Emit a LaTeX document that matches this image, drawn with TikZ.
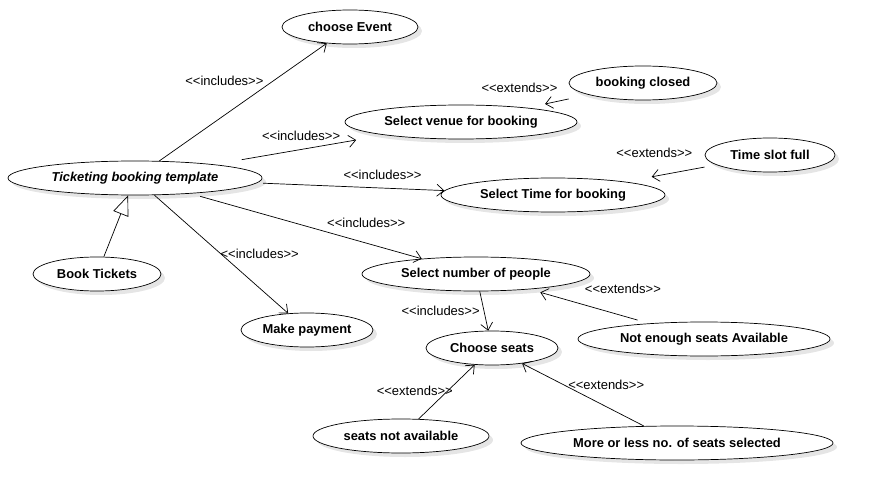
\documentclass[tikz,border=0pt]{standalone}
\usepackage{fontspec}
\setmainfont{Liberation Sans}
\usetikzlibrary{arrows.meta}
\usetikzlibrary{shapes.geometric}
\usetikzlibrary{shadows}

\begin{document}
\begin{tikzpicture}[x=1pt,y=-1pt]
      \useasboundingbox (0,0) rectangle (875,500);

      \begin{scope}[every node/.style={ellipse,draw,line width=0.7pt,fill=white,inner sep=0pt,
          minimum height=34pt,
          drop shadow={shadow xshift=4pt,shadow yshift=-4pt,fill=black!10,opacity=1},
          font=\fontsize{12.9}{14}\selectfont\bfseries}]
        \node[minimum width=254pt,font=\fontsize{12.9}{14}\selectfont\bfseries\itshape] (tmpl) at (135, 178) {Ticketing booking template};
        \node[minimum width=128pt] (book) at (97, 274) {Book Tickets};
        \node[minimum width=136pt] (event) at (350, 27) {choose Event};
        \node[minimum width=232pt] (venue) at (461, 122) {Select venue for booking};
        \node[minimum width=148pt] (closed) at (643, 83) {booking closed};
        \node[minimum width=224pt] (time) at (553, 195) {Select Time for booking};
        \node[minimum width=130pt] (slot) at (770, 155) {Time slot full};
        \node[minimum width=228pt] (people) at (476, 274) {Select number of people};
        \node[minimum width=252pt] (noseats) at (704, 339) {Not enough seats Available};
        \node[minimum width=132pt] (pay) at (307, 330) {Make payment};
        \node[minimum width=132pt] (seats) at (492, 348) {Choose seats};
        \node[minimum width=176pt] (notavail) at (401, 436) {seats not available};
        \node[minimum width=312pt] (moreless) at (677, 443) {More or less no. of seats selected};
      \end{scope}

      \begin{scope}[>={Straight Barb[length=7pt,width=12pt]},
          every node/.style={font=\fontsize{13}{14}\selectfont,inner sep=1pt},
          every edge/.style={draw=black,line width=0.7pt}]
        \path [->] (tmpl) edge node[pos=0.63, anchor=south east] {<{}<includes>{}>} (event);
        \path [->] (tmpl) edge[shorten <=28pt, shorten >=29pt] node[pos=0.51, above=7pt] {<{}<includes>{}>} (venue);
        \path [->] (tmpl) edge[shorten <=6pt] node[pos=0.67, above=7pt] {<{}<includes>{}>} (time);
        \path [->] (tmpl) edge[shorten <=10pt] node[pos=0.76, above=14pt] {<{}<includes>{}>} (people);
        \path [->] (tmpl) edge node[pos=0.5, anchor=west, xshift=-2pt] {<{}<includes>{}>} (pay);
        \path [-{Triangle[open,length=20pt,width=16pt]}] (book) edge (tmpl);
        \path [->] (closed) edge[shorten <=20pt, shorten >=18pt] node[pos=1, above=14pt, xshift=-8pt] {<{}<extends>{}>} (venue);
        \path [->] (slot) edge[shorten <=12pt, shorten >=27pt] node[pos=0.68, above=17pt] {<{}<extends>{}>} (time);
        \path [->] (people) edge node[pos=0.5, left=3pt] {<{}<includes>{}>} (seats);
        \path [->] (noseats) edge[shorten <=12pt, shorten >=11pt] node[pos=0.22, above=21pt] {<{}<extends>{}>} (people);
        \path [->] (notavail) edge node[pos=0.52, xshift=-33pt] {<{}<extends>{}>} (seats);
        \path [->] (moreless) edge node[pos=0.31, above=16pt] {<{}<extends>{}>} (seats);
      \end{scope}
    \end{tikzpicture}
\end{document}
